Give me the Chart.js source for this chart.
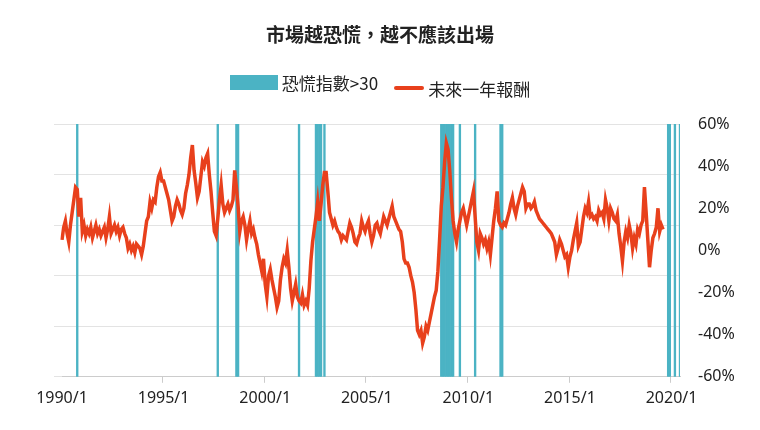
<!DOCTYPE html>
<html><head><meta charset="utf-8">
<script src="https://cdn.jsdelivr.net/npm/chart.js@4"></script>
<style>
body{margin:0;background:#fff;font-family:"Noto Sans CJK TC","Noto Sans",sans-serif;}
#wrap{position:relative;width:760px;height:430px;}
#title{position:absolute;top:20px;left:0;width:760px;text-align:center;font-size:19px;font-weight:bold;color:#222;}
#legend{position:absolute;top:70px;left:0;width:760px;text-align:center;font-size:17px;color:#222;}
.lg{display:inline-flex;align-items:center;margin:0 8px;}
</style></head><body>
<div id="wrap">
<canvas id="c" width="760" height="430"></canvas>
<div id="title">市場越恐慌，越不應該出場</div>
<div id="legend"><span class="lg"><span style="display:inline-block;width:48px;height:15px;background:#4bb3c4;margin-right:4px"></span>恐慌指數&gt;30</span><span class="lg"><span style="display:inline-block;width:30px;height:4px;background:#e8401c;margin-right:4px;border-radius:2px"></span>未來一年報酬</span></div>
</div>
<script>
const returns1990s = [
 5,11,14,8,4,12,18,24,30,29,16,25,
 9,12,7,10,8,11,6,9,12,8,10,7,
 9,11,6,10,16,8,10,12,9,11,7,10,
 11,8,6,1,3,0,2,-1,3,2,1,-2,
 2,8,14,16,23,20,24,23,30,35,37,33,
 33,30,27,24,19,14,16,21,24,22,19,17,
 20,27,31,36,44,50,38,32,25,28,35,42,
 40,44,46,36,28,18,9,7,15,24,31,22,
 18,20,22,19,21,24,38,30,21,9,14,16,
 12,5,10,14,8,10,6,3,-2,-6,-10,-4];
const returns2000s = [
 -16,-22,-12,-9,-14,-18,-22,-27,-24,-14,-8,-4,
 -6,0,-8,-18,-24,-20,-16,-22,-24,-25,-21,-26,
 -24,-26,-18,-5,4,10,16,23,14,22,31,37,
 37,28,18,15,12,14,11,9,8,5,7,6,
 5,9,13,11,8,4,3,6,8,14,11,9,
 12,14,8,4,7,12,13,10,8,12,16,14,
 12,15,18,21,16,14,12,10,9,4,-4,-6,
 -6,-8,-12,-15,-20,-28,-38,-40,-38,-44,-41,-36,
 -38,-34,-30,-26,-22,-19,-10,5,21,30,42,51,
 48,38,25,14,8,4,10,14,18,20,16,12];
const returns2010s = [
 16,20,24,28,16,4,0,8,6,3,5,1,
 4,-2,6,14,20,28,14,12,11,13,12,15,
 18,22,25,20,17,21,24,27,30,28,20,22,
 22,20,21,23,19,17,15,14,13,12,11,10,
 9,8,6,4,-2,1,5,3,0,-3,-2,-8,
 -3,0,5,9,13,2,4,10,16,20,18,23,
 16,17,15,16,14,19,17,18,15,24,20,14,
 20,18,15,14,17,8,2,-5,4,9,6,12,
 8,1,6,3,10,8,12,14,30,18,5,-8,
 0,6,8,11,20,9,12,10,null,null,null,null];
const returns2020s = [null,null,null,null,null,null];
const panicMonths = ["1990/10","1997/9","1998/8","1998/9","2001/9","2002/7","2002/8","2002/9","2002/10","2002/12",
 "2008/9","2008/10","2008/11","2008/12","2009/1","2009/2","2009/3","2009/4","2009/8","2010/5","2011/8","2011/9",
 "2019/11","2019/12","2020/3","2020/6"];
const yTicks = [-60,-40,-20,0,20,40,60];

const labels=[];
for(let y=1990;y<=2020;y++){for(let m=1;m<=12;m++){if(y===2020&&m>6)break;labels.push(y+"/"+m);}}
const lineData=[...returns1990s,...returns2000s,...returns2010s,...returns2020s];
const barData=labels.map(l=>panicMonths.includes(l)?[-60,60]:null);

new Chart(document.getElementById('c'),{
 data:{labels,datasets:[
  {type:'line',label:'未來一年報酬',data:lineData,borderColor:'#e8401c',borderWidth:3.5,pointRadius:0,tension:0,yAxisID:'y',order:0},
  {type:'bar',label:'恐慌指數>30',data:barData,backgroundColor:'#4bb3c4',barPercentage:1,categoryPercentage:1,yAxisID:'y',order:1}
 ]},
 options:{responsive:false,animation:false,
  layout:{padding:{top:124,left:62,bottom:16,right:0}},
  plugins:{legend:{display:false},tooltip:{enabled:false}},
  scales:{
   x:{offset:false,border:{color:'#ccc'},
     grid:{drawOnChartArea:false,tickLength:6,color:(c)=>c.index%60===0?'#ccc':'transparent'},
     ticks:{autoSkip:false,maxRotation:0,color:'#222',padding:6,font:{size:16,family:'Noto Sans'},
       callback:(v,i)=>i%60===0?labels[i]:''}},
   g:{position:'left',min:-60,max:60,afterFit:(a)=>{a.width=0;},border:{display:false},
     grid:{color:'#e3e3e3'},ticks:{stepSize:24,display:false}},
   y:{position:'right',min:-60,max:60,afterFit:(a)=>{a.width=80;},border:{display:false},
     grid:{display:false},
     afterBuildTicks:(a)=>{a.ticks=yTicks.map(v=>({value:v}));},
     ticks:{color:'#222',padding:10,font:{size:16,family:'Noto Sans'},callback:v=>v+'%'}}
  }}
});
</script>
</body></html>
